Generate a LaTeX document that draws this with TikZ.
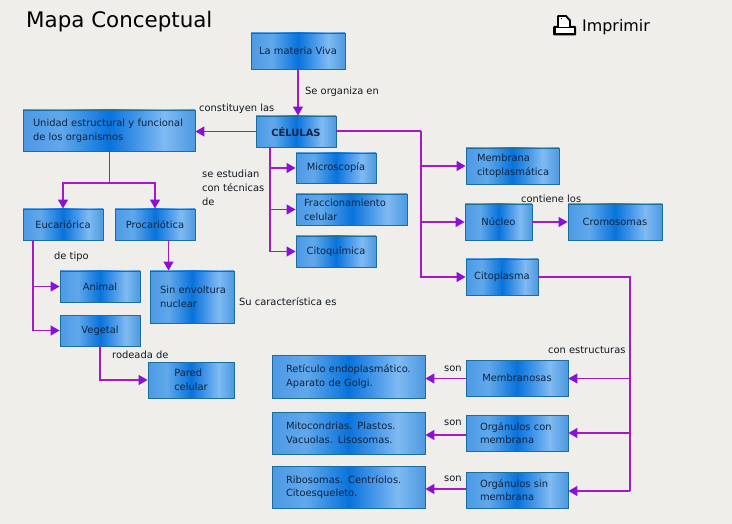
\documentclass[tikz,border=0pt]{standalone}
\usepackage{fontspec}
\setmainfont{DejaVu Sans}
\usetikzlibrary{arrows.meta}
\definecolor{bgc}{HTML}{F0EEEB}
\definecolor{edgec}{HTML}{1A6E9E}
\definecolor{linec}{HTML}{A818C4}
\definecolor{tipc}{HTML}{8A10D8}
\definecolor{txtc}{HTML}{101820}
\definecolor{boxtxt}{HTML}{0C2440}
\pgfdeclarehorizontalshading{boxgrad}{100bp}{
  rgb(0bp)=(0.30,0.60,0.90);
  rgb(25bp)=(0.30,0.60,0.90);
  rgb(36bp)=(0.38,0.66,0.92);
  rgb(50bp)=(0.03,0.45,0.86);
  rgb(60bp)=(0.32,0.62,0.92);
  rgb(66bp)=(0.50,0.73,0.95);
  rgb(75bp)=(0.30,0.60,0.88);
  rgb(100bp)=(0.30,0.60,0.88)}
\tikzset{
  x=1pt,y=-1pt,
  every node/.style={font=\fontsize{9.9}{13.7}\selectfont},
  conceptbox/.style={draw=edgec,line width=0.9pt,shading=boxgrad,text=boxtxt,inner xsep=0pt,inner ysep=0pt,align=left,anchor=center},
  conn/.style={draw=linec,line width=1.25pt},
  arr/.style={conn,-{Triangle[length=9pt,width=10pt,fill=tipc,color=tipc]}},
  lbl/.style={text=txtc,inner sep=0pt,anchor=west,align=left},
}
\newcommand{\cbox}[7][]{\node[conceptbox,minimum width=#5pt-#3pt,minimum height=#6pt-#4pt,#1] (#2) at ({(#3+#5)/2},{(#4+#6)/2}) {#7};}
\begin{document}
\begin{tikzpicture}
\useasboundingbox (0,0) rectangle (732,524);
\fill[bgc] (0,0) rectangle (732,524);
\node[lbl,font=\fontsize{21.4}{24}\selectfont,text=black] (title) at (26,21.5) {Mapa Conceptual};
% printer icon
\fill[black,rounded corners=1pt] (553,26) rectangle (576,35.5);
\fill[white] (555.5,28) rectangle (573.5,33);
\draw[black,line width=1.9pt,fill=white,line join=round] (558,27.5) -- (558,16) -- (566,16) -- (570,20.5) -- (570,27.5);
\fill[black] (560.5,18) rectangle (562,19.5);
\draw[black,line width=1.2pt] (558,27.5) -- (572,27.5);
\node[lbl,font=\fontsize{15.9}{18}\selectfont,text=black] (print) at (582,27) {Imprimir};
% boxes
\cbox{materia}{251}{33}{345}{69}{La materia Viva}
\cbox[font=\fontsize{9.9}{14}\bfseries]{celulas}{256}{116}{336}{147}{CÉLULAS}
\cbox[text width=152pt]{unidad}{23}{110}{195}{151}{Unidad estructural y funcional\\de los organismos}
\cbox{euc}{23}{209}{103}{240}{Eucariórica}
\cbox{pro}{115}{209}{195}{240}{Procariótica}
\cbox{micro}{296}{153}{376}{183}{Microscopía}
\cbox[text width=95pt]{frac}{296}{194}{407}{225}{Fraccionamiento\\celular}
\cbox{citoq}{296}{236}{376}{267}{Citoquímica}
\cbox[text width=71pt]{memb}{466}{148}{559}{184}{Membrana\\citoplasmática}
\cbox{nucleo}{465}{204}{532}{240}{Núcleo}
\cbox{cromo}{568}{204}{662}{240}{Cromosomas}
\cbox{citopl}{466}{259}{538}{295}{Citoplasma}
\cbox{animal}{60}{271}{140}{302}{Animal}
\cbox{vegetal}{60}{315}{140}{346}{Vegetal}
\cbox[text width=64pt]{sinenv}{150}{271}{234}{323}{\mbox{Sin envoltura}\\nuclear}
\cbox{pared}{148}{362}{234}{398}{Pared\\celular}
\cbox[text width=125pt]{retic}{272}{355}{425}{398}{Retículo endoplasmático.\\Aparato de Golgi.}
\cbox[text width=125pt]{mito}{272}{412}{425}{454}{Mitocondrias. Plastos.\\Vacuolas. Lisosomas.}
\cbox[text width=125pt]{ribo}{272}{466}{425}{508}{Ribosomas. Centríolos.\\Citoesqueleto.}
\cbox{mbranosas}{466}{360}{568}{396}{Membranosas}
\cbox[text width=74pt]{orgcon}{466}{415}{568}{451}{Orgánulos con\\membrana}
\cbox[text width=74pt]{orgsin}{466}{472}{568}{508}{Orgánulos sin\\membrana}
% labels
\node[lbl] (l1) at (305,92) {Se organiza en};
\node[lbl] (l2) at (199,109) {constituyen las};
\node[lbl] (l3) at (202,188) {se estudian\\con técnicas\\de};
\node[lbl] (l4) at (54,257) {de tipo};
\node[lbl] (l5) at (239,302) {Su característica es};
\node[lbl] (l6) at (112,355) {rodeada de};
\node[lbl] (l7) at (521,199) {contiene los};
\node[lbl] (l8) at (548,350) {con estructuras};
\node[lbl] (l9) at (444,368.5) {son};
\node[lbl] (l10) at (444,422.5) {son};
\node[lbl] (l11) at (444,478.5) {son};
% junction coordinates
\coordinate (cb) at (270,147);
\coordinate (cr) at (421,131);
\coordinate (ub) at (109.5,151);
\coordinate (uj) at (109.5,183);
\coordinate (eb) at (33,240);
\coordinate (pb) at (168.5,240);
\coordinate (vb) at (100,346);
\coordinate (cv) at (630,277);
\coordinate (cv1) at (630,378.5);
\coordinate (cv2) at (630,433);
\coordinate (cv3) at (630,491);
% connectors
\draw[arr] (materia.south) -- (materia.south |- celulas.north);
\draw[arr] (celulas.west) -- (unidad.east |- celulas.west);
\draw[arr] (cb) |- (micro.west);
\draw[arr] (cb) |- (frac.west);
\draw[arr] (cb) |- (citoq.west);
\draw[conn] (celulas.east |- cr) -- (cr);
\draw[arr] (cr) |- (memb.west);
\draw[arr] (cr) |- (nucleo.west);
\draw[arr] (cr) |- (citopl.west);
\draw[arr] (nucleo.east) -- (cromo.west);
\draw[conn] (ub) -- (uj);
\draw[arr] (uj) -| (euc.north);
\draw[arr] (uj) -| (pro.north);
\draw[arr] (eb) |- (animal.west);
\draw[arr] (eb) |- (vegetal.west);
\draw[arr] (pb) -- (pb |- sinenv.north);
\draw[arr] (vb) |- (pared.west);
\draw[conn] (citopl.east |- cv) -| (cv3);
\draw[arr] (cv1) -- (mbranosas.east |- cv1);
\draw[arr] (cv2) -- (orgcon.east |- cv2);
\draw[arr] (cv3) -- (orgsin.east |- cv3);
\draw[arr] (mbranosas.west |- 0,378.5) -- (retic.east |- 0,378.5);
\draw[arr] (orgcon.west |- 0,435) -- (mito.east |- 0,435);
\draw[arr] (orgsin.west |- 0,489) -- (ribo.east |- 0,489);
\end{tikzpicture}
\end{document}
